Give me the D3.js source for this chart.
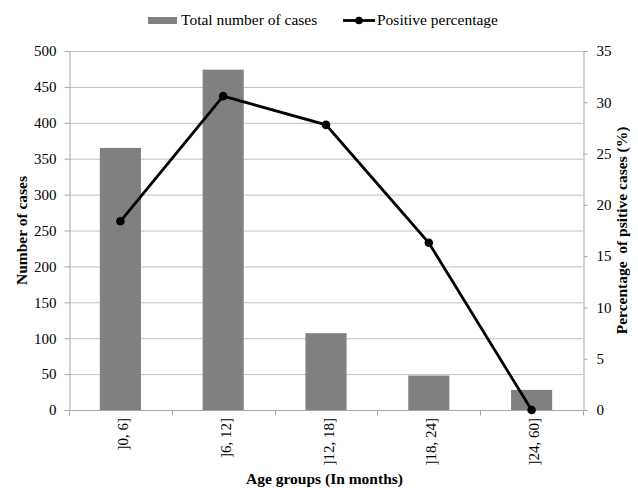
<!DOCTYPE html>
<html>
<head>
<meta charset="utf-8">
<script src="https://cdn.jsdelivr.net/npm/d3@7"></script>
<style>
  body { margin: 0; background: #fff; }
</style>
</head>
<body>
<svg id="chart" width="638" height="488"></svg>
<script>
// Age groups and their values
const ageGroups = ["]0, 6]", "]6, 12]", "]12, 18]", "]18, 24]", "]24, 60]"];
const totalCases = [365, 474, 107, 48, 28];
const positivePct = [18.4, 30.6, 27.8, 16.3, 0];
const caseTicks = [0, 50, 100, 150, 200, 250, 300, 350, 400, 450, 500];
const pctTicks = [0, 5, 10, 15, 20, 25, 30, 35];

const FONT = "'Liberation Serif', 'Times New Roman', serif";
const svg = d3.select("#chart").style("font-family", FONT);
const plotL = 69, plotR = 583, plotT = 51, plotB = 410;
const axisColor = "#a6a6a6", gridColor = "#c0c0c0";
const tickFont = 15, labelFont = 15.5;

const x = d3.scaleBand().domain(ageGroups).range([plotL, plotR]);
const yL = d3.scaleLinear().domain([0, 500]).range([plotB, plotT]);
const yR = d3.scaleLinear().domain([0, 35]).range([plotB, plotT]);

// gridlines
svg.append("g").selectAll("line").data(caseTicks.filter(d => d > 0)).join("line")
  .attr("x1", plotL).attr("x2", plotR)
  .attr("y1", d => yL(d) + 0.5).attr("y2", d => yL(d) + 0.5)
  .attr("stroke", gridColor).attr("stroke-width", 1);

// bars
const barW = x.bandwidth() * 0.4;
svg.append("g").selectAll("rect").data(ageGroups).join("rect")
  .attr("x", d => x(d) + (x.bandwidth() - barW) / 2)
  .attr("width", barW)
  .attr("y", (d, i) => yL(totalCases[i]))
  .attr("height", (d, i) => plotB - yL(totalCases[i]))
  .attr("fill", "#808080");

// axes
function styleAxis(g) {
  g.attr("font-family", null);
  g.select(".domain").attr("stroke", axisColor);
  g.selectAll(".tick line").attr("stroke", axisColor);
  g.selectAll(".tick text").attr("font-size", tickFont).style("font-family", FONT).style("fill", "#000");
}
svg.append("g").attr("transform", `translate(${plotL + 0.5},0)`)
  .call(d3.axisLeft(yL).tickValues(caseTicks).tickSize(5).tickSizeOuter(0).tickPadding(8))
  .call(styleAxis);
svg.append("g").attr("transform", `translate(${plotR + 0.5},0)`)
  .call(d3.axisRight(yR).tickValues(pctTicks).tickSize(4).tickSizeOuter(0).tickPadding(9))
  .call(styleAxis);

// x axis with ticks at category boundaries
const xg = svg.append("g").attr("transform", `translate(0,${plotB + 0.5})`);
xg.append("line").attr("x1", plotL).attr("x2", plotR).attr("stroke", axisColor);
const bounds = ageGroups.map(d => x(d)).concat([plotR]);
xg.selectAll("line.tk").data(bounds).join("line").attr("class", "tk")
  .attr("x1", d => Math.round(d) + 0.5).attr("x2", d => Math.round(d) + 0.5)
  .attr("y1", 0).attr("y2", 5).attr("stroke", axisColor);
xg.selectAll("text").data(ageGroups).join("text")
  .attr("transform", d => `translate(${x(d) + x.bandwidth() / 2 + 7.5},7.5) rotate(-90)`)
  .attr("text-anchor", "end").attr("font-size", tickFont).style("font-family", FONT)
  .text(d => d);

// percentage line
const line = d3.line()
  .x((d, i) => x(ageGroups[i]) + x.bandwidth() / 2)
  .y(d => yR(d));
svg.append("path").datum(positivePct)
  .attr("d", line).attr("fill", "none")
  .attr("stroke", "#000").attr("stroke-width", 2.8);
svg.append("g").selectAll("circle").data(positivePct).join("circle")
  .attr("cx", (d, i) => x(ageGroups[i]) + x.bandwidth() / 2)
  .attr("cy", d => yR(d)).attr("r", 4.3).attr("fill", "#000");

// axis titles
svg.append("text").attr("x", 324.5).attr("y", 484).attr("text-anchor", "middle")
  .style("font-family", FONT)
  .attr("font-size", labelFont).attr("font-weight", "bold").text("Age groups (In months)");
svg.append("text").attr("transform", `translate(27,${(plotT + plotB) / 2}) rotate(-90)`)
  .style("font-family", FONT)
  .attr("text-anchor", "middle").attr("font-size", labelFont).attr("font-weight", "bold")
  .text("Number of cases");
svg.append("text").attr("transform", `translate(627,${(plotT + plotB) / 2}) rotate(-90)`)
  .style("font-family", FONT)
  .attr("text-anchor", "middle").attr("font-size", labelFont).attr("font-weight", "bold")
  .style("white-space", "pre")
  .text("Percentage  of psitive cases (%)");

// legend
const lg = svg.append("g");
lg.append("rect").attr("x", 148).attr("y", 17).attr("width", 29).attr("height", 7).attr("fill", "#808080");
lg.append("text").attr("x", 181).attr("y", 25).attr("font-size", labelFont).style("font-family", FONT)
  .text("Total number of cases");
lg.append("line").attr("x1", 343).attr("x2", 375).attr("y1", 20.5).attr("y2", 20.5)
  .attr("stroke", "#000").attr("stroke-width", 2.8);
lg.append("circle").attr("cx", 359).attr("cy", 20.5).attr("r", 3.8).attr("fill", "#000");
lg.append("text").attr("x", 377).attr("y", 25).attr("font-size", labelFont).style("font-family", FONT)
  .text("Positive percentage");
</script>
</body>
</html>
